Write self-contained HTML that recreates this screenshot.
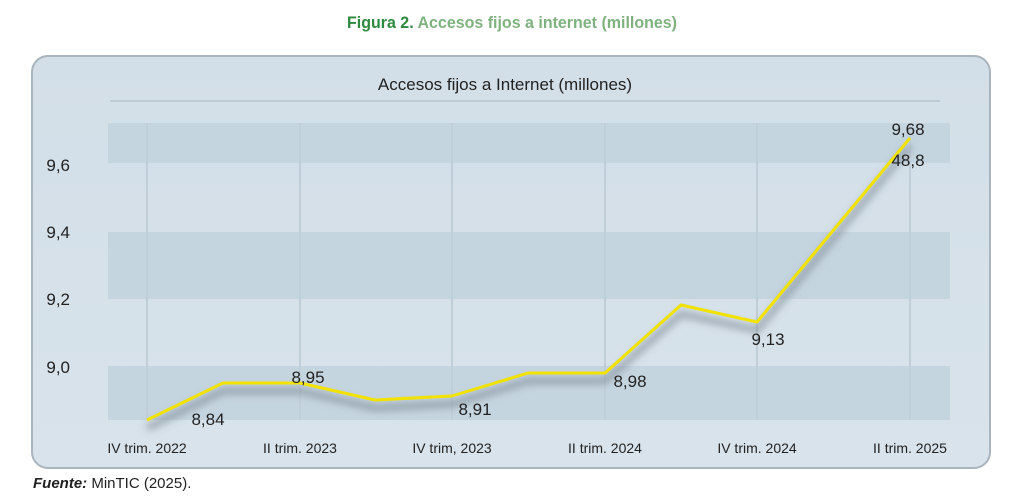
<!DOCTYPE html>
<html><head><meta charset="utf-8"><style>
body{margin:0;background:#fff;}
svg{display:block;font-family:"Liberation Sans",sans-serif;}
</style></head><body>
<svg width="1024" height="503" viewBox="0 0 1024 503">
<defs>
<filter id="sh" x="-10%" y="-10%" width="120%" height="140%"><feGaussianBlur stdDeviation="4"/></filter>
<linearGradient id="pg" x1="0" y1="0" x2="0" y2="1"><stop offset="0" stop-color="#d3dfe8"/><stop offset="1" stop-color="#d8e3eb"/></linearGradient>
</defs>
<text x="512" y="28" text-anchor="middle" font-size="17" font-weight="bold" fill="#7fb27f" textLength="330" lengthAdjust="spacingAndGlyphs"><tspan fill="#2f8a3f">Figura 2.</tspan> Accesos fijos a internet (millones)</text>
<rect x="32" y="56" width="958" height="412" rx="16" fill="url(#pg)" stroke="#a9b4bc" stroke-width="2"/>
<text x="505" y="90" text-anchor="middle" font-size="17" fill="#222">Accesos fijos a Internet (millones)</text>
<line x1="110" y1="101" x2="940" y2="101" stroke="#bccbd6" stroke-width="2"/>
<rect x="108" y="123" width="842" height="40" fill="#c5d5df"/>
<rect x="108" y="232" width="842" height="67" fill="#c5d5df"/>
<rect x="108" y="366" width="842" height="54" fill="#c5d5df"/>
<g stroke="#bfced9" stroke-width="2">
<line x1="147" y1="123" x2="147" y2="420"/><line x1="300" y1="123" x2="300" y2="420"/><line x1="452" y1="123" x2="452" y2="420"/><line x1="605" y1="123" x2="605" y2="420"/><line x1="757" y1="123" x2="757" y2="420"/><line x1="910" y1="123" x2="910" y2="420"/>
</g>
<g font-size="17" fill="#222" text-anchor="end">
<text x="70" y="171">9,6</text><text x="70" y="238">9,4</text><text x="70" y="305">9,2</text><text x="70" y="373">9,0</text>
</g>
<polyline points="147,428 223,391 300,391 375,408 452,404 528,381 605,381 681,314 757,330 910,146" fill="none" stroke="#6b7780" stroke-opacity="0.6" stroke-width="6" filter="url(#sh)"/>
<polyline points="147,420 223,383 300,383 375,400 452,396 528,373 605,373 681,305 757,322 910,138" fill="none" stroke="#f2e200" stroke-width="3" stroke-linejoin="round"/>
<g font-size="17" fill="#222" text-anchor="middle">
<text x="208" y="425">8,84</text><text x="308" y="383">8,95</text><text x="475" y="415">8,91</text><text x="630" y="387">8,98</text><text x="768" y="345">9,13</text><text x="908" y="135">9,68</text><text x="908" y="166">48,8</text>
</g>
<g font-size="14" fill="#222" text-anchor="middle">
<text x="147" y="453">IV trim. 2022</text><text x="300" y="453">II trim. 2023</text><text x="452" y="453">IV trim, 2023</text><text x="605" y="453">II trim. 2024</text><text x="757" y="453">IV trim. 2024</text><text x="910" y="453">II trim. 2025</text>
</g>
<text x="33" y="488" font-size="15" fill="#222"><tspan font-weight="bold" font-style="italic">Fuente:</tspan> MinTIC (2025).</text>
</svg>
</body></html>
